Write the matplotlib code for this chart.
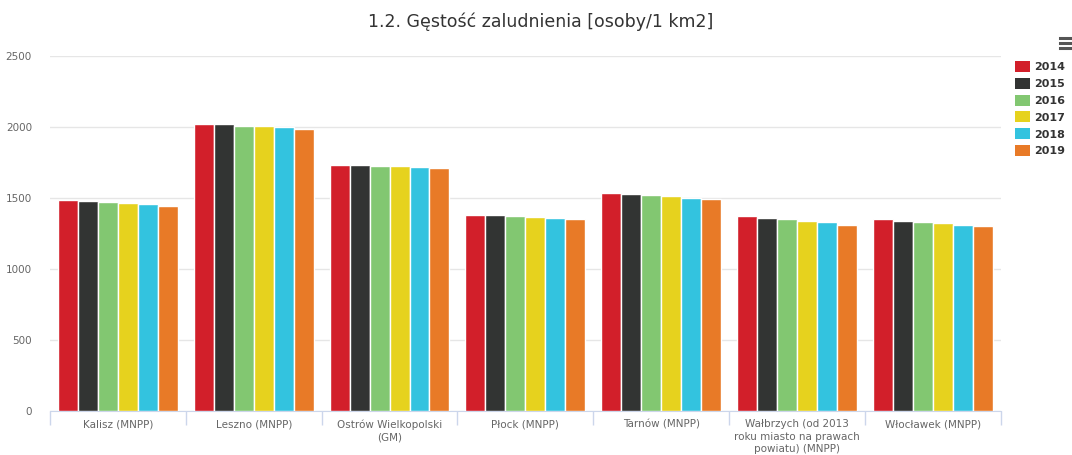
import matplotlib
matplotlib.use("Agg")
import matplotlib.pyplot as plt
import numpy as np
from matplotlib.lines import Line2D
from matplotlib.patches import Patch

# data
categories = [
    "Kalisz (MNPP)",
    "Leszno (MNPP)",
    "Ostrów Wielkopolski\n(GM)",
    "Płock (MNPP)",
    "Tarnów (MNPP)",
    "Wałbrzych (od 2013\nroku miasto na prawach\npowiatu) (MNPP)",
    "Włocławek (MNPP)",
]
years = ["2014", "2015", "2016", "2017", "2018", "2019"]
v2014 = [1486, 2019, 1730, 1380, 1535, 1375, 1350]
v2015 = [1479, 2018, 1729, 1378, 1528, 1361, 1336]
v2016 = [1467, 2007, 1721, 1370, 1521, 1350, 1331]
v2017 = [1460, 2006, 1721, 1365, 1514, 1336, 1324]
v2018 = [1456, 2000, 1714, 1360, 1500, 1331, 1310]
v2019 = [1444, 1986, 1707, 1352, 1493, 1310, 1303]
series = [v2014, v2015, v2016, v2017, v2018, v2019]
colors = ["#d21f2a", "#323433", "#82c771", "#e6d21e", "#33c3df", "#e87a27"]

fig = plt.figure(figsize=(10.72, 4.55), dpi=100)
ax = fig.add_axes([0.0466, 0.0967, 0.887, 0.781])

x = np.arange(len(categories))
slot = 0.147
for i, (vals, c) in enumerate(zip(series, colors)):
    ax.bar(x + (i - 2.5) * slot, vals, width=slot, color=c,
           edgecolor="white", linewidth=1.0, label=years[i], zorder=3)

ax.set_xlim(-0.5, len(categories) - 0.5)
ax.set_ylim(0, 2500)
ax.set_yticks(range(0, 2501, 500))
ax.grid(axis="y", color="#e6e6e6", linewidth=1, zorder=0)
ax.tick_params(axis="y", length=0, pad=13, labelsize=7.5, labelcolor="#666666")

ax.set_xticks(x)
ax.set_xticklabels(categories, fontsize=7.5, color="#666666", linespacing=1.3, va="top")
ax.tick_params(axis="x", length=0, pad=6)
ax.set_xticks(np.arange(-0.5, len(categories)), minor=True)
ax.tick_params(axis="x", which="minor", length=10, color="#ccd6eb", width=1)

for s in ["top", "right", "left"]:
    ax.spines[s].set_visible(False)
ax.spines["bottom"].set_color("#ccd6eb")

fig.text(0.504, 0.952, "1.2. Gęstość zaludnienia [osoby/1 km2]",
         ha="center", va="center", fontsize=12.5, color="#333333")

handles = [Patch(facecolor=c, edgecolor="none") for c in colors]
leg = fig.legend(handles, years, loc="upper left", bbox_to_anchor=(0.947, 0.866),
                 frameon=False, handlelength=1.3, handleheight=1.15, handletextpad=0.4,
                 labelspacing=0.5, borderaxespad=0, borderpad=0,
                 prop={"weight": "bold", "size": 8})
for t in leg.get_texts():
    t.set_color("#333333")

# menu icon
for yy in [0.916, 0.905, 0.894]:
    fig.add_artist(Line2D([0.989, 1.0], [yy, yy], color="#555555", linewidth=2.2))

fig.savefig("out.png", dpi=100)
